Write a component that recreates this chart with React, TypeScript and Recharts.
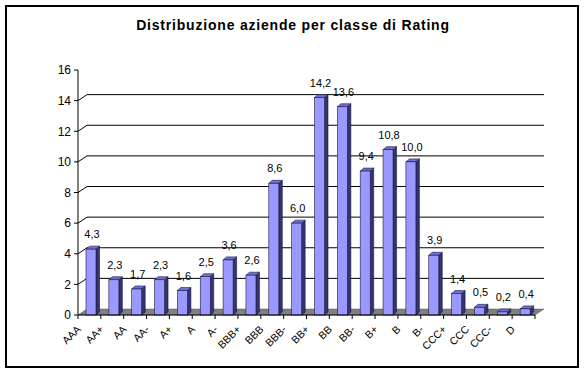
import React from "react";
import { BarChart, Bar, XAxis, YAxis, CartesianGrid, LabelList } from "recharts";

// Distribuzione aziende per classe di Rating (%)
const categories = [
  "AAA", "AA+", "AA", "AA-", "A+", "A", "A-", "BBB+", "BBB", "BBB-",
  "BB+", "BB", "BB-", "B+", "B", "B-", "CCC+", "CCC", "CCC-", "D",
];
const shares = [
  4.3, 2.3, 1.7, 2.3, 1.6, 2.5, 3.6, 2.6, 8.6, 6.0,
  14.2, 13.6, 9.4, 10.8, 10.0, 3.9, 1.4, 0.5, 0.2, 0.4,
];
const yTicks = [0, 2, 4, 6, 8, 10, 12, 14, 16];
const gridValues = [0, 2, 4, 6, 8, 10, 12, 14];

const data = categories.map((rating, i) => ({ rating, value: shares[i] }));

const W = 586;
const H = 374;
const MARGIN = { top: 70, right: 51, bottom: 9, left: 38 };
const Y_AXIS_W = 40;
const X_AXIS_H = 50;
const BAND = (W - MARGIN.left - Y_AXIS_W - MARGIN.right) / categories.length;

// depth of the 3d wall / floor and of each bar
const WALL_DX = 9;
const WALL_DY = 6;
const BAR_DX = 3.5;
const BAR_DY = 3;
const BAR_SHIFT = 2;

const FONT = "'Liberation Sans', Arial, sans-serif";
const FRONT = "#9999FF";
const TOP = "#6F6FD8";
const SIDE = "#333370";
const EDGE = "#1a1a40";

const fmt = (v: number) => v.toFixed(1).replace(".", ",");

function Bar3D(props: any) {
  const { x, y, width, height } = props;
  if (x == null || y == null || !height) return null;
  const X = x + BAR_SHIFT;
  const w = width;
  const h = height;
  return (
    <g>
      <polygon
        points={`${X + w},${y} ${X + w + BAR_DX},${y - BAR_DY} ${X + w + BAR_DX},${y + h - BAR_DY} ${X + w},${y + h}`}
        fill={SIDE}
        stroke={EDGE}
        strokeWidth={0.6}
      />
      <polygon
        points={`${X},${y} ${X + BAR_DX},${y - BAR_DY} ${X + w + BAR_DX},${y - BAR_DY} ${X + w},${y}`}
        fill={TOP}
        stroke={EDGE}
        strokeWidth={0.6}
      />
      <rect x={X} y={y} width={w} height={h} fill={FRONT} stroke={EDGE} strokeWidth={0.6} />
    </g>
  );
}

function GridLine(props: any) {
  const { x1, y1, x2, y, height } = props;
  const isFloor = Math.abs(y1 - (y + height)) < 0.5;
  if (isFloor) {
    return (
      <polygon
        key={props.key}
        points={`${x1},${y1} ${x2},${y1} ${x2 + WALL_DX},${y1 - WALL_DY} ${x1 + WALL_DX},${y1 - WALL_DY}`}
        fill="#808080"
        stroke="#555"
        strokeWidth={0.5}
      />
    );
  }
  return (
    <polyline
      key={props.key}
      points={`${x1},${y1} ${x1 + WALL_DX},${y1 - WALL_DY} ${x2 + WALL_DX},${y1 - WALL_DY}`}
      fill="none"
      stroke="#000"
      strokeWidth={1}
    />
  );
}

function RatingTick(props: any) {
  const { x, y, payload, index } = props;
  const left = x - BAND / 2;
  const ax = x - 8;
  const ay = y + 15;
  return (
    <g>
      <line x1={left} y1={y} x2={left} y2={y + 4} stroke="#000" />
      {index === categories.length - 1 && (
        <line x1={left + BAND} y1={y} x2={left + BAND} y2={y + 4} stroke="#000" />
      )}
      <text
        x={ax}
        y={ay}
        textAnchor="end"
        transform={`rotate(-45 ${ax} ${ay})`}
        fontSize={10.5}
        fontFamily={FONT}
        fill="#000"
      >
        {payload.value}
      </text>
    </g>
  );
}

function ValueLabel(props: any) {
  const { x, y, width, value } = props;
  return (
    <text
      x={x + BAR_SHIFT + width / 2 + 1}
      y={y - 11}
      textAnchor="middle"
      fontSize={11}
      fontFamily={FONT}
      fill="#000"
    >
      {fmt(Number(value))}
    </text>
  );
}

export default function App() {
  return (
    <div style={{ position: "absolute", left: 0, top: 0, width: W, height: H, background: "#fff" }}>
      <div
        style={{
          position: "absolute",
          left: 5,
          top: 5,
          width: 574,
          height: 363,
          border: "2px solid #000",
          boxSizing: "border-box",
        }}
      />
      <div
        style={{
          position: "absolute",
          left: 0,
          top: 17,
          width: W,
          textAlign: "center",
          fontFamily: FONT,
          fontWeight: "bold",
          fontSize: 14,
          letterSpacing: 0.8,
          color: "#000",
        }}
      >
        Distribuzione aziende per classe di Rating
      </div>
      <div style={{ position: "absolute", left: 0, top: 0 }}>
        <BarChart width={W} height={H} data={data} margin={MARGIN} barSize={10}>
          <CartesianGrid
            vertical={false}
            horizontalValues={gridValues}
            horizontal={(p: any) => <GridLine {...p} />}
          />
          <XAxis
            dataKey="rating"
            height={X_AXIS_H}
            tickLine={false}
            tickSize={0}
            tickMargin={0}
            interval={0}
            axisLine={{ stroke: "#000" }}
            tick={<RatingTick />}
          />
          <YAxis
            width={Y_AXIS_W}
            domain={[0, 16]}
            ticks={yTicks}
            interval={0}
            tickSize={4}
            tickMargin={3}
            axisLine={{ stroke: "#000" }}
            tickLine={{ stroke: "#000" }}
            tick={{ fontSize: 12, fontFamily: FONT, fill: "#000" }}
          />
          <Bar dataKey="value" shape={<Bar3D />} isAnimationActive={false}>
            <LabelList dataKey="value" content={<ValueLabel />} />
          </Bar>
        </BarChart>
      </div>
    </div>
  );
}
